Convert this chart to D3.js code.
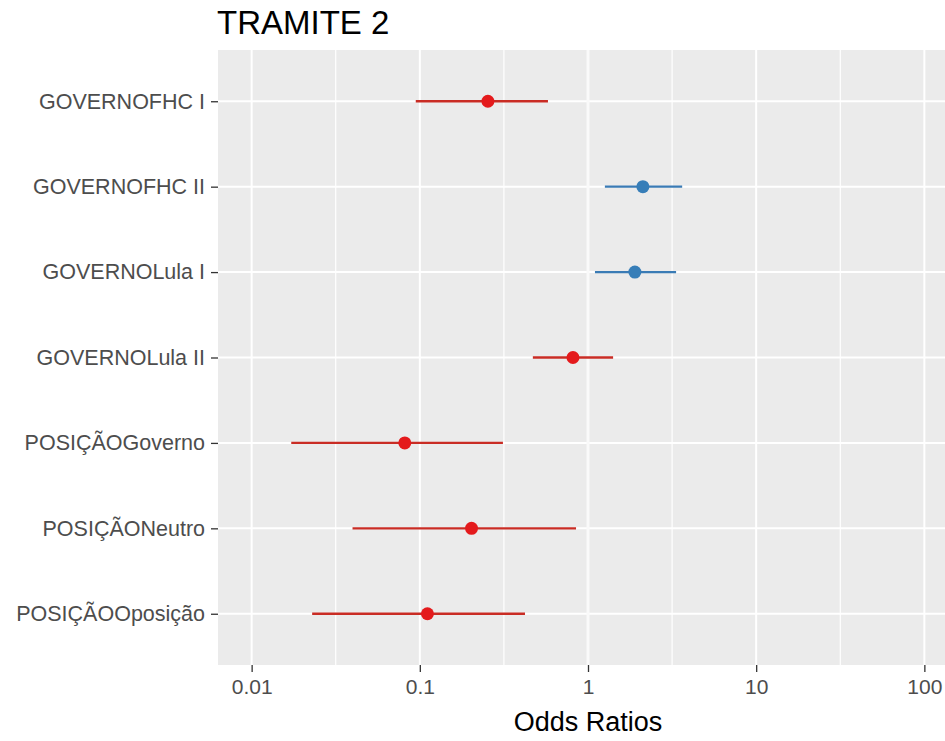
<!DOCTYPE html>
<html>
<head>
<meta charset="utf-8">
<script src="https://cdn.jsdelivr.net/npm/d3@7"></script>
<style>
  body { margin: 0; background: #fff; }
  svg { display: block; font-family: "Liberation Sans", Arial, sans-serif; }
</style>
</head>
<body>
<svg id="chart" width="945" height="741"></svg>
<script>
// ---- data ----
const terms = ["GOVERNOFHC I", "GOVERNOFHC II", "GOVERNOLula I", "GOVERNOLula II",
               "POSIÇÃOGoverno", "POSIÇÃONeutro", "POSIÇÃOOposição"];
const estimates = [0.254, 2.12, 1.90, 0.814, 0.0814, 0.203, 0.111];
const lowerCI   = [0.0946, 1.26, 1.10, 0.47, 0.0172, 0.0398, 0.0229];
const upperCI   = [0.578, 3.63, 3.34, 1.41, 0.312, 0.849, 0.422];
const xTickValues = [0.01, 0.1, 1, 10, 100];
const xTickLabels = ["0.01", "0.1", "1", "10", "100"];
const xMinorValues = [0.01 * Math.sqrt(10), 0.1 * Math.sqrt(10), Math.sqrt(10), 10 * Math.sqrt(10)];
const title = "TRAMITE 2";
const xTitle = "Odds Ratios";

const rows = terms.map((t, i) => ({term: t, est: estimates[i], lo: lowerCI[i], hi: upperCI[i]}));

// ---- layout ----
const panel = {left: 218, right: 958, top: 50, bottom: 665};
const svg = d3.select("#chart");

const x = d3.scaleLog()
  .domain([0.01 / Math.pow(10, 0.2), 100 * Math.pow(10, 0.2)])
  .range([panel.left, panel.right]);
const y = d3.scalePoint()
  .domain(terms)
  .range([panel.top, panel.bottom])
  .padding(0.6);

const colRed = "#E41A1C", colBlue = "#377EB8";
const lineRed = "#c92c24", lineBlue = "#3a7bb5";

svg.append("defs").append("clipPath").attr("id", "pclip")
  .append("rect").attr("x", panel.left).attr("y", panel.top)
  .attr("width", panel.right - panel.left).attr("height", panel.bottom - panel.top);

const g = svg.append("g").attr("clip-path", "url(#pclip)");
g.append("rect").attr("x", panel.left).attr("y", panel.top)
  .attr("width", panel.right - panel.left).attr("height", panel.bottom - panel.top)
  .attr("fill", "#EBEBEB");

// minor grid
g.selectAll(".minor").data(xMinorValues).join("line")
  .attr("x1", d => x(d)).attr("x2", d => x(d))
  .attr("y1", panel.top).attr("y2", panel.bottom)
  .attr("stroke", "#fff").attr("stroke-width", 1.2);
// major grid
g.selectAll(".majorx").data(xTickValues).join("line")
  .attr("x1", d => x(d)).attr("x2", d => x(d))
  .attr("y1", panel.top).attr("y2", panel.bottom)
  .attr("stroke", "#fff").attr("stroke-width", 2);
g.selectAll(".majory").data(terms).join("line")
  .attr("x1", panel.left).attr("x2", panel.right)
  .attr("y1", d => y(d)).attr("y2", d => y(d))
  .attr("stroke", "#fff").attr("stroke-width", 2);
// reference line at 1
g.append("line")
  .attr("x1", x(1)).attr("x2", x(1))
  .attr("y1", panel.top).attr("y2", panel.bottom)
  .attr("stroke", "#fafafa").attr("stroke-width", 3);

// error bars
g.selectAll(".ci").data(rows).join("line")
  .attr("x1", d => x(d.lo)).attr("x2", d => x(d.hi))
  .attr("y1", d => y(d.term)).attr("y2", d => y(d.term))
  .attr("stroke", d => d.est > 1 ? lineBlue : lineRed)
  .attr("stroke-width", 2.4);
// points
g.selectAll(".pt").data(rows).join("circle")
  .attr("cx", d => x(d.est)).attr("cy", d => y(d.term))
  .attr("r", 6.5)
  .attr("fill", d => d.est > 1 ? colBlue : colRed);

// ---- axes ----
const xAxis = d3.axisBottom(x)
  .tickValues(xTickValues)
  .tickFormat((d, i) => xTickLabels[i])
  .tickSize(7).tickPadding(6);
const xg = svg.append("g").attr("transform", `translate(0,${panel.bottom})`).call(xAxis);
xg.select(".domain").remove();
xg.selectAll(".tick line").attr("stroke", "#333").attr("stroke-width", 1.3);
xg.selectAll(".tick text").attr("fill", "#4d4d4d").attr("font-size", 21)
  .attr("font-family", "Liberation Sans, Arial, sans-serif").attr("dy", "0.75em");

const yAxis = d3.axisLeft(y).tickSize(7).tickPadding(6);
const yg = svg.append("g").attr("transform", `translate(${panel.left},0)`).call(yAxis);
yg.select(".domain").remove();
yg.selectAll(".tick line").attr("stroke", "#333").attr("stroke-width", 1.3);
yg.selectAll(".tick text").attr("fill", "#4d4d4d").attr("font-size", 21.5)
  .attr("font-family", "Liberation Sans, Arial, sans-serif");

// titles
svg.append("text").attr("x", (panel.left + panel.right) / 2).attr("y", 731)
  .attr("text-anchor", "middle").attr("font-size", 27).attr("fill", "#000")
  .text(xTitle);
svg.append("text").attr("x", 217).attr("y", 34)
  .attr("font-size", 33).attr("fill", "#000")
  .text(title);
</script>
</body>
</html>
